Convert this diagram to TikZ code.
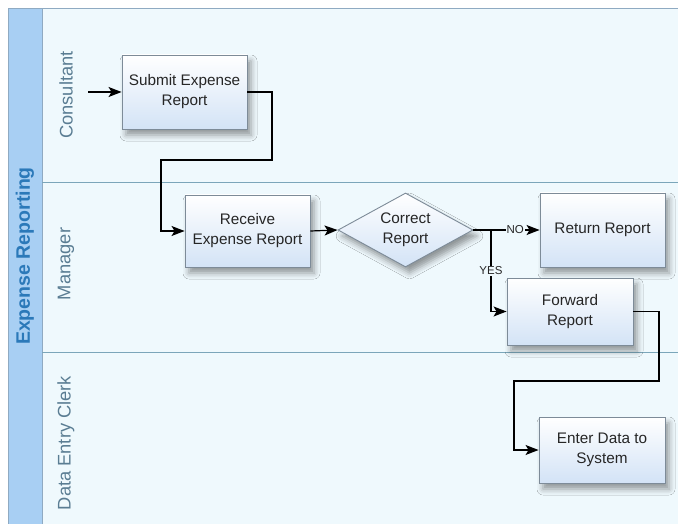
\documentclass[tikz,border=0pt]{standalone}
\usepackage{fontspec}
\setmainfont{Liberation Sans}
\usetikzlibrary{shapes.geometric,arrows.meta,shadows.blur}

\definecolor{titlefill}{HTML}{A8CFF3}
\definecolor{titletext}{HTML}{2B79B9}
\definecolor{lanefill}{HTML}{EFF9FD}
\definecolor{laneline}{HTML}{7BA6BA}
\definecolor{frameline}{HTML}{8FAAC2}
\definecolor{lanetext}{HTML}{5A7D93}
\definecolor{boxtop}{HTML}{FFFFFF}
\definecolor{boxbottom}{HTML}{D3E3F6}
\definecolor{boxline}{HTML}{7D8B98}

\begin{document}
\begin{tikzpicture}[x=1pt,y=-1pt,
  boxshadow/.style={blur shadow={shadow xshift=4pt, shadow yshift=-6pt,
      shadow blur radius=6pt, shadow opacity=40}},
  task/.style={draw=boxline, line width=0.9pt, top color=boxtop,
      bottom color=boxbottom, inner sep=0pt, align=center,
      font=\fontsize{15.3}{20}\selectfont, text=black!85, boxshadow},
  decision/.style={task, diamond, shape aspect=1.8},
  flow/.style={draw=black, line width=1.2pt,
      -{Stealth[length=13pt,width=10pt,inset=3pt]}},
  plain/.style={draw=black, line width=1.2pt},
  branch/.style={fill=lanefill, inner sep=1pt, text=black!85,
      font=\fontsize{11.5}{12}\selectfont},
  lanelabel/.style={rotate=90, text=lanetext,
      font=\fontsize{18.3}{20}\selectfont},
]
\useasboundingbox (0,0) rectangle (678,524);

% pool frame and lanes
\fill[white] (0,0) rectangle (678,524);
\fill[lanefill] (42,8.5) rectangle (678,524);
\fill[titlefill] (8.5,8.5) rectangle (42,524);
\draw[frameline, line width=0.9pt] (8.5,524) -- (8.5,8.5) -- (678,8.5);
\draw[frameline, line width=0.9pt] (42,8.5) -- (42,524);
\draw[laneline, line width=0.9pt] (42,182) -- (678,182);
\draw[laneline, line width=0.9pt] (42,352) -- (678,352);

\node[rotate=90, text=titletext, font=\fontsize{19.5}{20}\bfseries]
  (pool) at (25,256) {Expense Reporting};
\node[lanelabel] (lane1) at (66,95) {Consultant};
\node[lanelabel] (lane2) at (66,264) {Manager};
\node[lanelabel] (lane3) at (66,443) {Data Entry Clerk};

% activities
\node[task, minimum width=125pt, minimum height=74pt] (submit)
  at (184.5,92) {Submit Expense\\Report};
\node[task, minimum width=125pt, minimum height=72pt] (receive)
  at (247.5,231) {Receive\\Expense Report};
\node[decision, minimum width=135pt, minimum height=74pt] (correct)
  at (405.5,230) {Correct\\Report};
\node[task, minimum width=125pt, minimum height=74pt] (return)
  at (602.5,230) {Return Report};
\node[task, minimum width=126pt, minimum height=67pt] (forward)
  at (570,311.5) {Forward\\Report};
\node[task, minimum width=126pt, minimum height=66pt] (enter)
  at (602,450) {Enter Data to\\System};

% connectors
\coordinate (start) at (88,92);
\coordinate (split) at (491,230);
\draw[flow] (start) -- (submit.west);
\draw[flow] (submit.east) -- (272,92) |- (161,160) |- (receive.west);
\draw[flow] (receive.east) -- (correct.west);
\draw[plain] (correct.east) -- (split);
\draw[flow] (split) -- node[branch] {NO} (return.west);
\draw[flow] (split) |- node[branch, pos=0.25] {YES} (forward.west);
\draw[flow] (forward.east) -- (659,311.5) |- (514,381) |- (enter.west);
\end{tikzpicture}
\end{document}
